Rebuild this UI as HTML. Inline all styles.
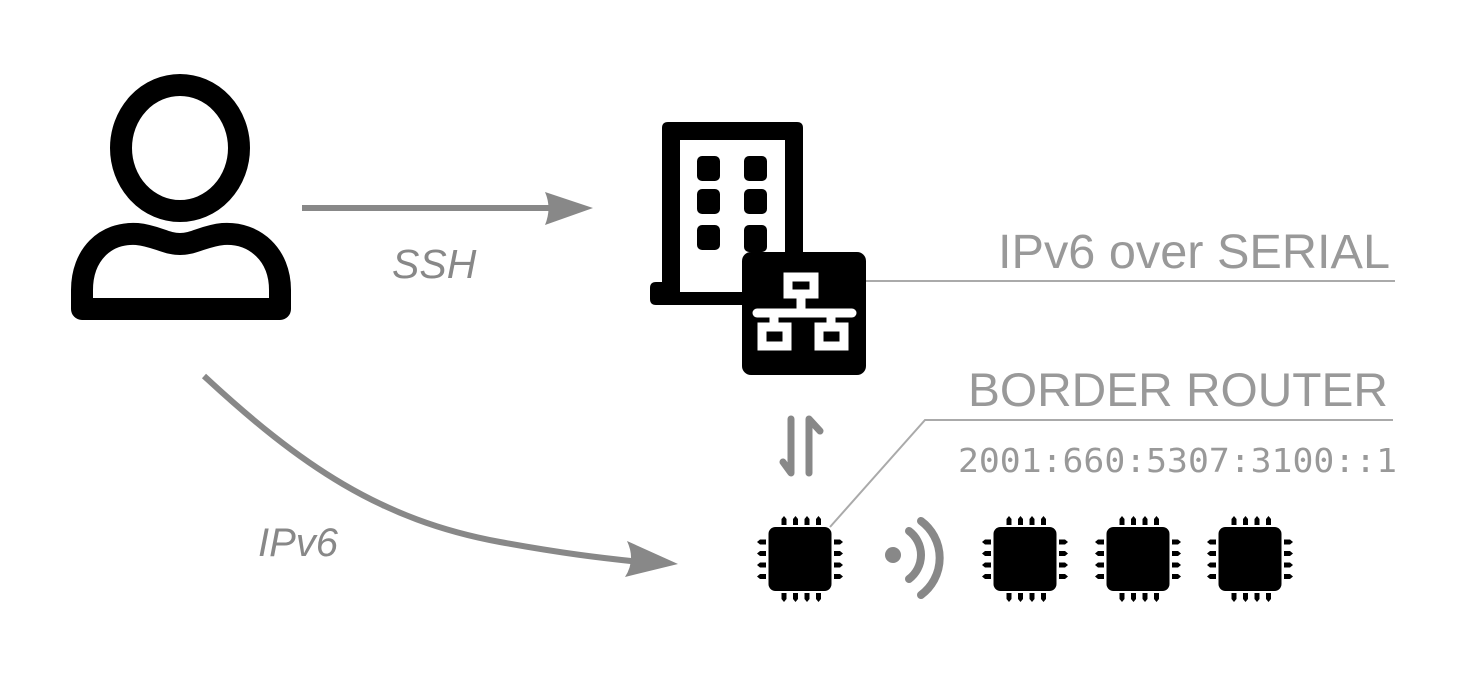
<!DOCTYPE html>
<html><head><meta charset="utf-8"><style>
html,body{margin:0;padding:0;background:#fff;}
svg{display:block;}
</style></head><body>
<svg width="1468" height="673" viewBox="0 0 1468 673" xmlns="http://www.w3.org/2000/svg">
<defs>
<g id="chip">
<rect x="-31.5" y="-32" width="63" height="64" rx="7" fill="#000"/>
<g fill="#000">
<path d="M-18.5,-34 v-6 l2.5,-3 l2.5,3 v6z"/><path d="M-7,-34 v-6 l2.5,-3 l2.5,3 v6z"/><path d="M4.5,-34 v-6 l2.5,-3 l2.5,3 v6z"/><path d="M16,-34 v-6 l2.5,-3 l2.5,3 v6z"/>
<path d="M-18.5,34 v6 l2.5,3 l2.5,-3 v-6z"/><path d="M-7,34 v6 l2.5,3 l2.5,-3 v-6z"/><path d="M4.5,34 v6 l2.5,3 l2.5,-3 v-6z"/><path d="M16,34 v6 l2.5,3 l2.5,-3 v-6z"/>
<path d="M-34,-19.5 h-6 l-3,2.5 l3,2.5 h6z"/><path d="M-34,-8 h-6 l-3,2.5 l3,2.5 h6z"/><path d="M-34,3.5 h-6 l-3,2.5 l3,2.5 h6z"/><path d="M-34,15 h-6 l-3,2.5 l3,2.5 h6z"/>
<path d="M34,-19.5 h6 l3,2.5 l-3,2.5 h-6z"/><path d="M34,-8 h6 l3,2.5 l-3,2.5 h-6z"/><path d="M34,3.5 h6 l3,2.5 l-3,2.5 h-6z"/><path d="M34,15 h6 l3,2.5 l-3,2.5 h-6z"/>
</g>
</g>
</defs>

<!-- person -->
<ellipse cx="180" cy="148" rx="59" ry="63" fill="none" stroke="#000" stroke-width="22"/>
<path d="M82,309 V290 C82,255 105,232 137,234 C157,236 165,244 180,244 C195,244 203,236 223,234 C255,232 280,255 280,290 V309 Z" fill="none" stroke="#000" stroke-width="22" stroke-linejoin="round"/>

<!-- SSH arrow -->
<line x1="302" y1="208" x2="570" y2="208" stroke="#888" stroke-width="6"/>
<path d="M545,192 L593,208 L545,225 Q552,208 545,192Z" fill="#888"/>
<text x="392" y="278" font-family="Liberation Sans, sans-serif" font-style="italic" font-size="41" fill="#888">SSH</text>

<!-- IPv6 curve -->
<path d="M204,376 C300,465 380,520 500,542 C560,553 600,558 650,563" fill="none" stroke="#888" stroke-width="6"/>
<path d="M627,541 L678,564 L625,577 Q636,560 627,541Z" fill="#888"/>
<text x="258" y="556" font-family="Liberation Sans, sans-serif" font-style="italic" font-size="40" fill="#888">IPv6</text>

<!-- building -->
<path d="M662,128 Q662,122 668,122 H797 Q803,122 803,128 V252 H785 V140 H680 V292 H742 V305 H656 Q650,305 650,299 V288 Q650,282 656,282 H662 Z" fill="#000"/>
<rect x="744" y="264" width="24" height="20" fill="#fff"/>
<g fill="#000">
<rect x="697" y="156" width="23" height="25" rx="5"/><rect x="744" y="156" width="23" height="25" rx="5"/>
<rect x="697" y="189" width="23" height="25" rx="5"/><rect x="744" y="189" width="23" height="25" rx="5"/>
<rect x="697" y="225" width="23" height="25" rx="5"/><rect x="744" y="225" width="23" height="27" rx="5"/>
</g>
<rect x="742" y="252" width="124" height="123" rx="9" fill="#000"/>
<g fill="none" stroke="#fff" stroke-width="9">
<rect x="788" y="277" width="26" height="17"/>
<line x1="801" y1="298" x2="801" y2="312"/>
<line x1="757" y1="313" x2="852" y2="313" stroke-linecap="round"/>
<rect x="762" y="327" width="25" height="19"/>
<rect x="819" y="327" width="25" height="19"/>
<line x1="774" y1="313" x2="774" y2="324"/>
<line x1="831" y1="313" x2="831" y2="324"/>
</g>

<!-- leader lines -->
<line x1="866" y1="281" x2="1395" y2="281" stroke="#aaa" stroke-width="2"/>
<polyline points="830,527 925,420 1393,420" fill="none" stroke="#aaa" stroke-width="2"/>
<text x="1390" y="268" text-anchor="end" font-family="Liberation Sans, sans-serif" font-size="48" fill="#999" textLength="392" lengthAdjust="spacingAndGlyphs">IPv6 over SERIAL</text>
<text x="1388" y="406" text-anchor="end" font-family="Liberation Sans, sans-serif" font-size="47" fill="#999" textLength="420" lengthAdjust="spacingAndGlyphs">BORDER ROUTER</text>
<text x="1397" y="472" text-anchor="end" font-family="DejaVu Sans Mono, Liberation Mono, monospace" font-size="33" fill="#999" textLength="439" lengthAdjust="spacingAndGlyphs">2001:660:5307:3100::1</text>

<!-- up/down arrows -->
<g fill="none" stroke="#888" stroke-width="7" stroke-linecap="round" stroke-linejoin="round">
<polyline points="791,419 791,473 783,462"/>
<polyline points="809,473 809,419 820,431"/>
</g>

<!-- chips -->
<use href="#chip" x="800" y="559"/>
<use href="#chip" x="1025" y="559"/>
<use href="#chip" x="1138" y="559"/>
<use href="#chip" x="1250" y="559"/>

<!-- wifi -->
<circle cx="893" cy="555" r="8" fill="#888"/>
<path d="M909,531 A30,30 0 0 1 909,579" fill="none" stroke="#888" stroke-width="8" stroke-linecap="round"/>
<path d="M921,521 A46,46 0 0 1 921,595" fill="none" stroke="#888" stroke-width="8" stroke-linecap="round"/>
</svg>
</body></html>
